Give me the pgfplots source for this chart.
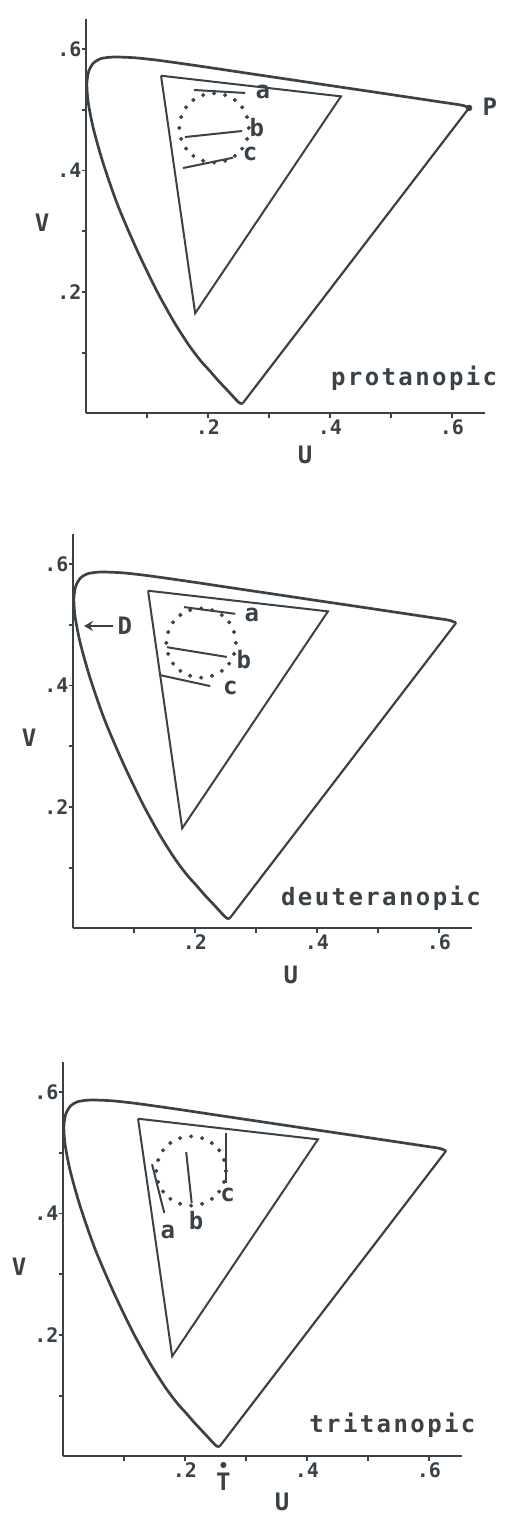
\documentclass[border=0pt]{standalone}
\usepackage{pgfplots}
\pgfplotsset{compat=1.18}
\usepackage{pgfplotstable}
\usepackage{fontspec}
\usetikzlibrary{arrows.meta}
\setmainfont{DejaVu Sans Mono}
\newfontfamily\plotfont{DejaVu Sans Mono}
\newfontfamily\namefont[LetterSpace=10]{DejaVu Sans Mono}
\definecolor{ink}{RGB}{58,66,72}

% spectrum locus in the u'v' plane
\pgfplotstableread{
u v
0.2568 0.0166
0.2522 0.0169
0.2461 0.0226
0.2347 0.0350
0.2161 0.0549
0.2029 0.0702
0.1877 0.0871
0.1690 0.1120
0.1441 0.1510
0.1147 0.2044
0.0828 0.2708
0.0521 0.3427
0.0282 0.4117
0.0119 0.4698
0.0035 0.5131
0.0014 0.5432
0.0046 0.5638
0.0123 0.5770
0.0231 0.5837
0.0360 0.5861
0.0501 0.5868
0.0792 0.5856
0.1127 0.5821
0.1531 0.5766
0.2026 0.5694
0.2623 0.5604
0.3315 0.5501
0.4035 0.5393
0.4692 0.5296
0.5203 0.5219
0.5565 0.5165
0.5830 0.5125
0.6005 0.5099
0.6109 0.5084
0.6199 0.5065
0.6280 0.5030
}\locus

% line of purples
\pgfplotstableread{
u v
0.6280 0.5030
0.2568 0.0166
}\purples

% display gamut (G, R, B)
\pgfplotstableread{
u v
0.123 0.556
0.418 0.522
0.179 0.165
0.123 0.556
}\gamut

% test colours on a circle round (0.21, 0.47)
\pgfplotstableread{
u v
0.267 0.470
0.264 0.488
0.256 0.504
0.244 0.516
0.228 0.524
0.210 0.527
0.192 0.524
0.176 0.516
0.164 0.504
0.156 0.488
0.153 0.470
0.156 0.452
0.164 0.436
0.176 0.424
0.192 0.416
0.210 0.413
0.228 0.416
0.244 0.424
0.256 0.436
0.264 0.452
}\ring

\newcommand\tickfont{\plotfont\bfseries\fontsize{10}{10}\selectfont}
\newcommand\letterfont{\plotfont\bfseries\fontsize{12}{12}\selectfont}
\newcommand\titlefont{\namefont\bfseries\fontsize{12}{12}\selectfont}

\tikzset{
  lab/.style={font=\letterfont, text=ink},
  ttl/.style={font=\titlefont, text=ink},
}

\pgfplotsset{
  cie/.style={
    x=305pt, y=303.75pt,
    xmin=0, xmax=0.654, ymin=0, ymax=0.65,
    axis lines*=left,
    axis line style={ink, line width=1pt},
    xtick={0.1,0.2,0.3,0.4,0.5,0.6}, xticklabels={,.2,,.4,,.6},
    ytick={0.1,0.2,0.3,0.4,0.5,0.6}, yticklabels={,.2,,.4,,.6},
    tick align=outside, major tick length=2.2pt,
    tick style={ink, line width=0.9pt},
    tick label style={font=\tickfont, text=ink},
    xticklabel style={yshift=2.5pt},
    yticklabel style={xshift=3.5pt},
    clip=false,
  },
  locusline/.style={ink, line width=1.35pt, smooth, tension=0.45, line join=round},
  purpleline/.style={ink, line width=1.1pt},
  gamutline/.style={ink, line width=1pt, line join=miter},
  ringdots/.style={only marks, mark=*, mark size=0.8pt, ink, mark options={fill=ink, draw=ink}},
  confusion/.style={ink, line width=1pt},
}

\begin{document}
\begin{tikzpicture}
\path[use as bounding box] (0,0) rectangle (255.5pt,764pt);

% protanopic
\begin{axis}[cie, at={(43pt,557.25pt)}, anchor=south west]
  \addplot[locusline] table {\locus};
  \addplot[purpleline] table {\purples};
  \addplot[gamutline] table {\gamut};
  \addplot[ringdots] table {\ring};
  \addplot[confusion] coordinates {(0.177,0.5325) (0.261,0.5276)};
  \addplot[confusion] coordinates {(0.162,0.455) (0.256,0.465)};
  \addplot[confusion] coordinates {(0.159,0.404) (0.241,0.421)};
  \addplot[only marks, mark=*, mark size=1.4pt, ink] coordinates {(0.628,0.503)};
  \node[lab] at (axis cs:0.290,0.530) {a};
  \node[lab] at (axis cs:0.280,0.470) {b};
  \node[lab] at (axis cs:0.269,0.427) {c};
  \node[lab] at (axis cs:0.662,0.505) {P};
  \node[ttl] at (axis cs:0.538,0.058) {protanopic};
  \node[lab] at (axis cs:0.359,-0.068) {U};
  \node[lab] at (axis cs:-0.072,0.314) {V};
\end{axis}

% deuteranopic
\begin{axis}[cie, at={(36.5pt,299.75pt)}, anchor=south west]
  \addplot[locusline] table {\locus};
  \addplot[purpleline] table {\purples};
  \addplot[gamutline] table {\gamut};
  \addplot[ringdots] table {\ring};
  \addplot[confusion] coordinates {(0.182,0.529) (0.266,0.518)};
  \addplot[confusion] coordinates {(0.154,0.463) (0.252,0.447)};
  \addplot[confusion] coordinates {(0.143,0.417) (0.225,0.399)};
  \addplot[ink, line width=1.3pt, -{Stealth[length=4.5pt,width=5pt,inset=1.5pt]}] coordinates {(0.066,0.498) (0.018,0.498)};
  \node[lab] at (axis cs:0.085,0.498) {D};
  \node[lab] at (axis cs:0.293,0.516) {a};
  \node[lab] at (axis cs:0.280,0.442) {b};
  \node[lab] at (axis cs:0.258,0.396) {c};
  \node[ttl] at (axis cs:0.505,0.050) {deuteranopic};
  \node[lab] at (axis cs:0.357,-0.076) {U};
  \node[lab] at (axis cs:-0.072,0.314) {V};
\end{axis}

% tritanopic
\begin{axis}[cie, at={(31.5pt,35.75pt)}, anchor=south west]
  \addplot[locusline] table {\locus};
  \addplot[purpleline] table {\purples};
  \addplot[gamutline] table {\gamut};
  \addplot[ringdots] table {\ring};
  \addplot[confusion] coordinates {(0.146,0.481) (0.166,0.401)};
  \addplot[confusion] coordinates {(0.202,0.501) (0.211,0.417)};
  \addplot[confusion] coordinates {(0.267,0.532) (0.267,0.450)};
  \addplot[only marks, mark=*, mark size=1.3pt, ink] coordinates {(0.263,-0.014)};
  \node[lab] at (axis cs:0.172,0.369) {a};
  \node[lab] at (axis cs:0.218,0.389) {b};
  \node[lab] at (axis cs:0.270,0.430) {c};
  \node[lab] at (axis cs:0.263,-0.042) {T};
  \node[ttl] at (axis cs:0.540,0.052) {tritanopic};
  \node[lab] at (axis cs:0.359,-0.075) {U};
  \node[lab] at (axis cs:-0.072,0.312) {V};
\end{axis}
\end{tikzpicture}
\end{document}
